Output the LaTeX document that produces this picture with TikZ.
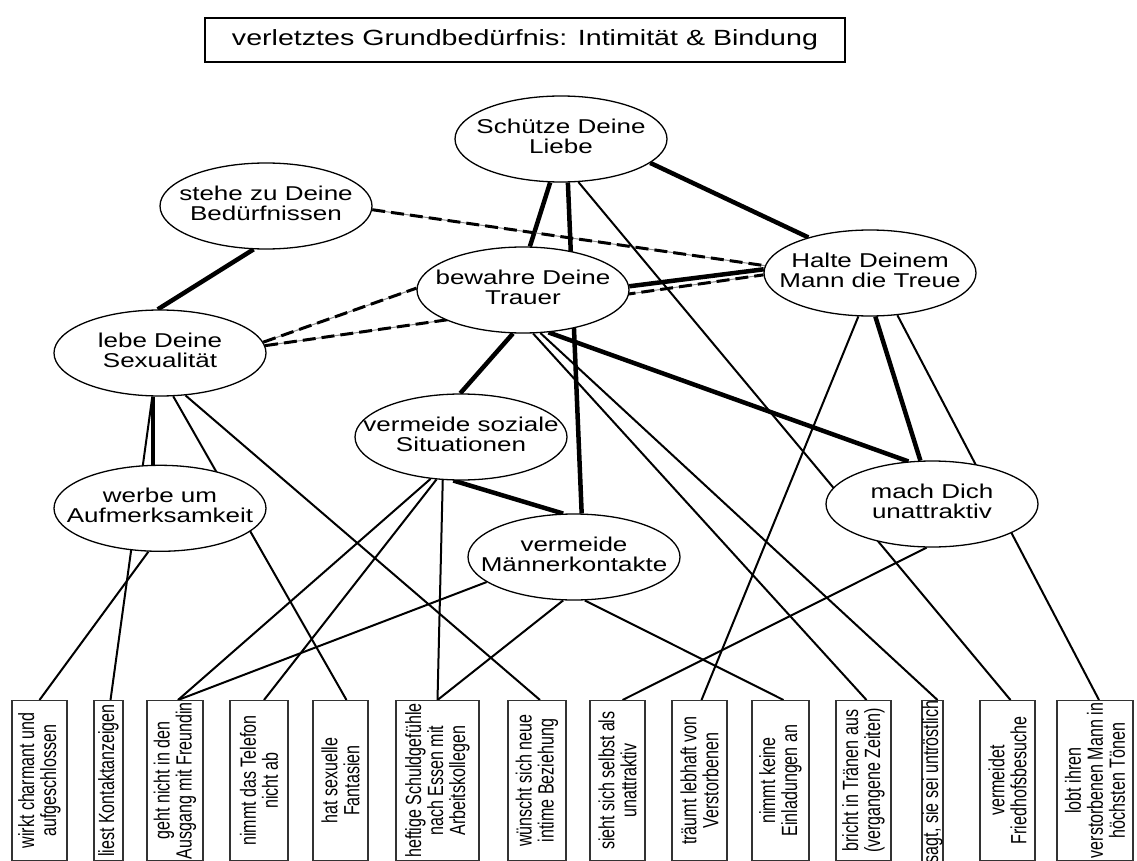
\documentclass[tikz,border=0pt]{standalone}
\usepackage{fontspec}
\setmainfont{Liberation Sans}
\newfontfamily\widefont[FakeStretch=1.3]{Liberation Sans}
\newfontfamily\narrowfont[FakeStretch=0.73]{Liberation Sans}
\usetikzlibrary{shapes,positioning,backgrounds}

\newcommand{\twolines}[1]{\makebox[0pt]{\begin{tabular}{@{}c@{}}#1\end{tabular}}}

\begin{document}
\begin{tikzpicture}[
  x=1pt, y=-1pt,
  headline/.style={rectangle, draw, line width=1.2pt, minimum width=640pt, minimum height=44pt, font=\widefont\fontsize{22}{22}\selectfont},
  goal/.style={ellipse, draw, fill=white, line width=1.3pt, minimum width=212pt, minimum height=86pt, inner sep=0pt, font=\widefont\fontsize{20}{18}\selectfont},
  behaviour/.style={rectangle, draw=black!80, fill=white, line width=1.2pt, rotate=90, anchor=east, minimum width=160pt, inner xsep=0pt, inner ysep=1pt, align=center, font=\narrowfont\fontsize{22}{22}\selectfont},
  link/.style={line width=2pt},
  strong/.style={line width=4.5pt},
  conflict/.style={line width=3pt, dash pattern=on 13pt off 6pt, preaction={draw, solid, line width=1pt, black!45}}
]
  \useasboundingbox (0,0) rectangle (1137,861);
  \clip (0,0) rectangle (1137,861);

  % Need
  \node[headline] (need) at (525,40) {verletztes Grundbedürfnis: Intimität \& Bindung};

  % Rules
  \node[goal] (schuetze) at (561,139) {\twolines{Schütze Deine\\Liebe}};
  \node[goal] (stehe) at (266,206) {\twolines{stehe zu Deine\\Bedürfnissen}};
  \node[goal] (bewahre) at (523,290) {\twolines{bewahre Deine\\Trauer}};
  \node[goal] (halte) at (870,273) {\twolines{Halte Deinem\\Mann die Treue}};
  \node[goal] (lebe) at (160,353) {\twolines{lebe Deine\\Sexualität}};
  \node[goal, below=68pt of lebe] (werbe) {\twolines{werbe um\\Aufmerksamkeit}};
  \node[goal] (soziale) at (461,437) {\twolines{vermeide soziale\\Situationen}};
  \node[goal] (maenner) at (574,557) {\twolines{vermeide\\Männerkontakte}};
  \node[goal] (unattr) at (932,504) {\twolines{mach Dich\\unattraktiv}};

  % Behaviour
  \node[behaviour, minimum height=55pt] (charmant) at (39.5,700) {wirkt charmant und\\aufgeschlossen};
  \node[behaviour, minimum height=29pt] (kontakt) at (108.5,700) {liest Kontaktanzeigen};
  \node[behaviour, minimum height=56pt] (ausgang) at (175,700) {geht nicht in den\\Ausgang mit Freundin};
  \node[behaviour, minimum height=58pt] (telefon) at (259,700) {nimmt das Telefon\\nicht ab};
  \node[behaviour, minimum height=55pt] (fantasie) at (340.5,700) {hat sexuelle\\Fantasien};
  \node[behaviour, minimum height=83pt] (schuld) at (437.5,700) {heftige Schuldgefühle\\nach Essen mit\\Arbeitskollegen};
  \node[behaviour, minimum height=58pt] (beziehung) at (537,700) {wünscht sich neue\\intime Beziehung};
  \node[behaviour, minimum height=55pt] (selbst) at (617.5,700) {sieht sich selbst als\\unattraktiv};
  \node[behaviour, minimum height=55pt] (traum) at (699.5,700) {träumt lebhaft von\\Verstorbenen};
  \node[behaviour, minimum height=57pt] (einladung) at (780.5,700) {nimmt keine\\Einladungen an};
  \node[behaviour, minimum height=55pt] (traenen) at (863.5,700) {bricht in Tränen aus\\(vergangene Zeiten)};
  \node[behaviour, minimum height=21pt, inner ysep=0pt] (trost) at (932.5,700) {sagt, sie sei untröstlich};
  \node[behaviour, minimum height=55pt] (friedhof) at (1007.5,700) {vermeidet\\Friedhofsbesuche};
  \node[behaviour, minimum height=76pt] (lob) at (1095,700) {lobt ihren\\verstorbenen Mann in\\höchsten Tönen};

  \begin{scope}[on background layer]
    % Strong ties
    \draw[strong] (schuetze.256) -- (bewahre.81);
    \draw[strong] (schuetze.279) -- (maenner.80);
    \draw[strong] (schuetze.345) -- (halte.150);
    \draw[strong] (stehe.254) -- (lebe.93);
    \draw[strong] (bewahre.2) -- (halte.178);
    \draw[strong] (bewahre.257) -- (soziale.91);
    \draw[strong] (bewahre.301) -- (unattr.119);
    \draw[strong] (halte.277) -- (unattr.105);
    \draw[strong] (soziale.260) -- (maenner.104);
    \draw[strong] (lebe.261) -- (werbe.99);

    % Conflicts
    \draw[conflict] (stehe.358) -- (halte.176);
    \draw[conflict] (lebe.6) -- (bewahre.179);
    \draw[conflict] (lebe.4) -- (halte.181);

    % Rules to behaviour
    \draw[link] (lebe.260) -- ([xshift=2pt]kontakt.east);
    \draw[link] (lebe.287) -- ([xshift=6pt]fantasie.east);
    \draw[link] (lebe.301) -- ([xshift=3pt]beziehung.east);
    \draw[link] (werbe.255) -- (charmant.east);
    \draw[link] (soziale.234) -- ([xshift=3pt]ausgang.east);
    \draw[link] (soziale.240) -- ([xshift=5pt]telefon.east);
    \draw[link] (soziale.247) -- (schuld.east);
    \draw[link] (maenner.196) -- ([xshift=3pt]ausgang.east);
    \draw[link] (maenner.256) -- (schuld.east);
    \draw[link] (maenner.284) -- ([xshift=3pt]einladung.east);
    \draw[link] (bewahre.283) -- ([xshift=3pt]traenen.east);
    \draw[link] (bewahre.292) -- ([xshift=5pt]trost.east);
    \draw[link] (halte.255) -- ([xshift=2pt]traum.east);
    \draw[link] (halte.303) -- ([xshift=4pt]lob.east);
    \draw[link] (unattr.263) -- ([xshift=5pt]selbst.east);
    \draw[link] (schuetze.292) -- ([xshift=3pt]friedhof.east);
  \end{scope}
\end{tikzpicture}
\end{document}
